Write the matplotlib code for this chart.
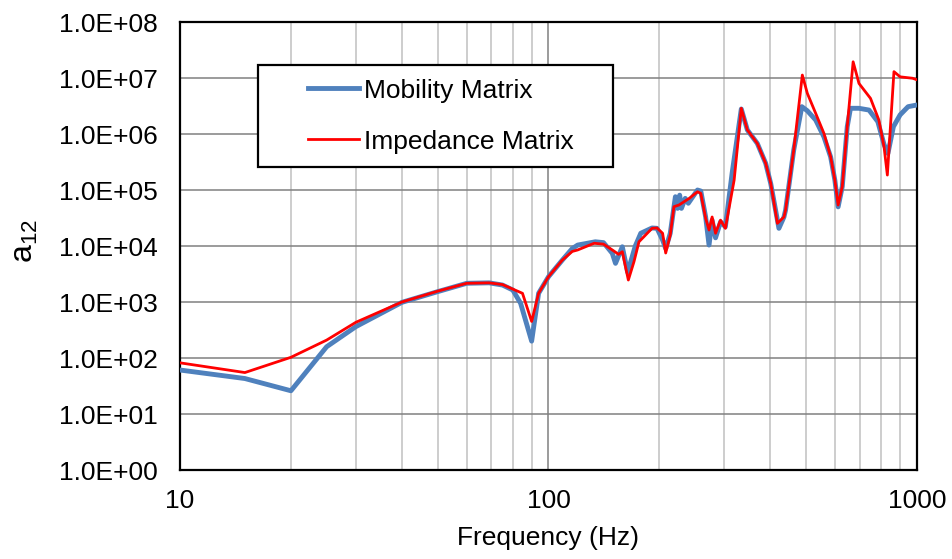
import matplotlib
matplotlib.use("Agg")
import matplotlib.pyplot as plt
from matplotlib.patches import Rectangle
from matplotlib.ticker import FuncFormatter, LogLocator, NullLocator, NullFormatter

plt.rcParams["font.family"] = ["Liberation Sans", "DejaVu Sans"]
plt.rcParams["mathtext.fontset"] = "custom"
plt.rcParams["mathtext.rm"] = "Liberation Sans"

# Mobility Matrix (blue)
mob_freq = [10, 15, 20, 25, 30, 40, 50, 60, 69, 75, 80, 84, 90, 94, 100,
            109, 116, 120, 134, 141, 149, 152, 158.6, 164, 172, 178, 191, 197,
            204, 208, 214, 219, 221, 224, 227, 229.5, 235, 239.6, 253.7, 259,
            267, 272.7, 278, 284, 293, 302, 315, 333.6, 346.5, 368.7, 388.5,
            401, 422, 435.5, 440, 463, 487, 504, 531, 559, 583, 598.6, 611,
            627, 646.7, 660, 696, 741, 783, 814, 834, 863, 900, 946, 1000]
mob_a12 = [61, 43, 26, 159, 363, 986, 1530, 2160, 2200, 2010, 1640, 950, 200,
           1430, 2830, 5600, 9000, 10400, 11900, 11500, 7400, 4900, 9700, 3400,
           10000, 16900, 21000, 20700, 12800, 9000, 16900, 50000, 76000, 47000,
           81000, 47000, 71000, 58000, 100000, 96000, 33000, 10400, 29000,
           14000, 27000, 22000, 200000, 2.8e6, 1.18e6, 6.8e5, 3.0e5, 1.3e5,
           2.07e4, 3.3e4, 4.4e4, 5.2e5, 3.08e6, 2.6e6, 1.78e6, 8.9e5, 3.9e5,
           1.5e5, 5e4, 1.15e5, 1.35e6, 2.88e6, 2.88e6, 2.68e6, 1.66e6, 6.5e5,
           4.5e5, 1.35e6, 2.2e6, 3.08e6, 3.3e6]

# Impedance Matrix (red)
imp_freq = [10, 15, 20, 25, 30, 40, 50, 60, 69, 75, 85, 90, 94, 100, 109, 116,
            120, 133, 141, 149, 155, 158.6, 164.7, 170.6, 176, 181.6, 191, 197,
            204, 208, 214, 219, 226, 233, 241, 253.7, 259, 267, 272.7, 278, 284,
            293, 302, 319, 333.6, 346.5, 368.7, 388.5, 401, 418, 435.5, 440,
            463, 488.5, 504, 531, 559, 583, 598.6, 611, 627, 646.7, 671, 696,
            748, 788, 814, 831, 866, 900, 973, 1000]
imp_a12 = [82, 55, 103, 209, 434, 1000, 1560, 2160, 2200, 2050, 1430, 450,
           1430, 2830, 5600, 8000, 8500, 11200, 10800, 8500, 7100, 7900, 2470,
           5250, 11900, 14700, 20700, 21000, 16900, 7500, 15700, 50400, 54000,
           61500, 71000, 93000, 87000, 31300, 19300, 33000, 16900, 29000,
           20700, 150000, 2.88e6, 1.18e6, 6.8e5, 3.0e5, 1.32e5, 2.54e4, 3.3e4,
           4.4e4, 5.2e5, 1.13e7, 5.33e6, 2.34e6, 1.03e6, 3.94e5, 1.51e5, 5.4e4,
           1.15e5, 1.35e6, 1.95e7, 8.0e6, 4.33e6, 1.78e6, 5.9e5, 1.85e5, 1.3e7,
           1.05e7, 9.9e6, 9.3e6]

fig = plt.figure(figsize=(9.53, 5.59), dpi=100)
ax = fig.add_axes([0.1889, 0.1592, 0.7733, 0.8014])

ax.plot(mob_freq, mob_a12, color="#4F81BD", linewidth=3.5,
        label="Mobility Matrix", zorder=3)
ax.plot(imp_freq, imp_a12, color="#FF0000", linewidth=2,
        label="Impedance Matrix", zorder=4)

ax.set_xscale("log")
ax.set_yscale("log")
ax.set_xlim(10, 1000)
ax.set_ylim(1, 1e8)

ax.xaxis.set_major_locator(LogLocator(base=10, numticks=5))
ax.xaxis.set_minor_locator(LogLocator(base=10, subs=range(2, 10), numticks=20))
ax.xaxis.set_minor_formatter(NullFormatter())
ax.xaxis.set_major_formatter(FuncFormatter(lambda v, p: f"{v:g}"))

ax.yaxis.set_major_locator(LogLocator(base=10, numticks=12))
ax.yaxis.set_minor_locator(NullLocator())
ax.yaxis.set_major_formatter(FuncFormatter(lambda v, p: f"{v:.1E}"))

ax.grid(True, which="major", color="#808080", linewidth=1.1, zorder=0)
ax.grid(True, which="minor", axis="x", color="#C0C0C0", linewidth=1.1, zorder=0)
ax.set_axisbelow(True)

ax.tick_params(which="both", length=0)
ax.tick_params(axis="y", labelsize=19, pad=16)
ax.tick_params(axis="x", labelsize=19, pad=14)

for spine in ax.spines.values():
    spine.set_color("black")
    spine.set_linewidth(1.6)

ax.set_xlabel("Frequency (Hz)", fontsize=19)
ax.xaxis.set_label_coords(0.5, -0.125)
ax.set_ylabel(r"$\mathregular{a_{12}}$", fontsize=23)
ax.yaxis.set_label_coords(-0.19, 0.51)

ax.add_patch(Rectangle((0.1058, 0.676), 0.4817, 0.2277, transform=ax.transAxes,
                       facecolor="white", edgecolor="black", linewidth=1.6,
                       zorder=5))
ax.legend(loc="center", bbox_to_anchor=(0.354, 0.790), frameon=False,
          fontsize=19, handlelength=1.95, handletextpad=0.2, labelspacing=1.03
          ).set_zorder(6)

fig.savefig("out.png", dpi=100, facecolor="white")
plt.close(fig)
